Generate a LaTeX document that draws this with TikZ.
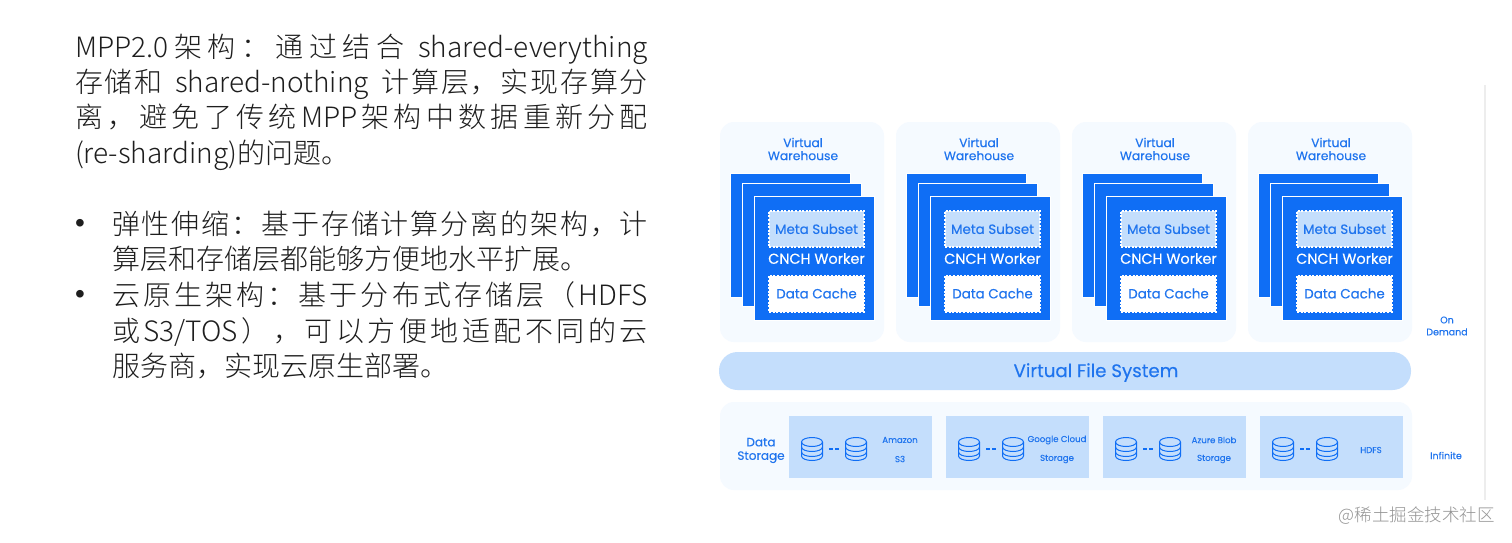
\documentclass[tikz,border=0pt]{standalone}
\usepackage{fontspec}
\setmainfont{Noto Sans CJK SC}
\newfontfamily\uifont[FakeBold=0.25]{Poppins}
\newfontfamily\cjkf{Noto Sans CJK SC Light}
\newfontfamily\bulletf{Liberation Sans}
\definecolor{brandblue}{HTML}{0F6EF5}
\definecolor{textblue}{HTML}{1F74EE}
\definecolor{palepanel}{HTML}{F5FAFF}
\definecolor{paleblue}{HTML}{C4DEFC}
\definecolor{inkgray}{HTML}{1E1E1E}
\makeatletter
\newcommand{\jline}[2]{\hbox to #1pt{\def\jsep{}\@tfor\jch:=#2\do{\jsep\jch\def\jsep{\hfil}}}}
\makeatother
\tikzset{
  x=1pt,y=-1pt,
  bodyline/.style={anchor=base west,inner sep=0pt,outer sep=0pt,text=inkgray,font=\cjkf\fontsize{28}{30}\selectfont},
  bulletmark/.style={inner sep=0pt,outer sep=0pt,text=inkgray,font=\bulletf\fontsize{28}{30}\selectfont},
  cardbox/.style={fill=brandblue,draw=white,line width=0.5pt},
  metabox/.style={fill=paleblue,draw=white,line width=2pt,dash pattern=on 2pt off 1.6pt,inner sep=0pt,text=textblue,font=\uifont\fontsize{13.4}{14}\selectfont},
  cachebox/.style={fill=white,draw=white,line width=2pt,dash pattern=on 2pt off 1.6pt,inner sep=0pt,text=textblue,font=\uifont\fontsize{13.4}{14}\selectfont},
  worklabel/.style={text=white,inner sep=0pt,font=\uifont\fontsize{14.4}{15}\selectfont},
  whlabel/.style={text=textblue,inner sep=0pt,align=center,font=\uifont\fontsize{12.3}{13}\selectfont},
  storebox/.style={fill=paleblue,draw=none,inner sep=0pt},
  storelabel/.style={text=textblue,inner sep=0pt,font=\uifont\fontsize{8.6}{10}\selectfont},
  sidelabel/.style={text=textblue,inner sep=0pt,align=center,font=\uifont\fontsize{9.5}{12}\selectfont},
  dbstroke/.style={draw=brandblue,line width=1pt},
  dblink/.style={draw=brandblue,line width=2pt,dash pattern=on 4pt off 2pt,shorten >=6.5pt,shorten <=6.5pt},
}
\newcommand{\dbicon}[3]{%
  \coordinate (#1) at (#2,#3);
  \draw[dbstroke] (#2,#3-7) ellipse [x radius=10.5pt,y radius=4.5pt];
  \draw[dbstroke] (#2-10.5,#3-7) -- (#2-10.5,#3+7) arc [start angle=180,end angle=360,x radius=10.5pt,y radius=4.5pt] -- (#2+10.5,#3-7);
  \draw[dbstroke] (#2-10.5,#3-2) arc [start angle=180,end angle=360,x radius=10.5pt,y radius=4.5pt];
  \draw[dbstroke] (#2-10.5,#3+3) arc [start angle=180,end angle=360,x radius=10.5pt,y radius=4.5pt];
}
\begin{document}
\begin{tikzpicture}
\useasboundingbox (0,0) rectangle (1512,542);
\fill[white] (0,0) rectangle (1512,542);
% left text
\node[bodyline] (l1) at (75,57) {\jline{573}{{MPP2.0}架构：通过结合{\hskip 2pt}{shared-everything}}};
\node[bodyline] (l2) at (75,92) {\jline{573}{存储和{\hskip 9pt}{shared-nothing}{\hskip 9pt}计算层，实现存算分}};
\node[bodyline] (l3) at (75,127.5) {\jline{573}{离，避免了传统{MPP}架构中数据重新分配}};
\node[bodyline] (l4) at (75,163) {(re-sharding)的问题。};
\node[bulletmark] (b1) at (80,226) {•};
\node[bodyline] (l5) at (112,234) {\jline{536}{弹性伸缩：基于存储计算分离的架构，计}};
\node[bodyline] (l6) at (112,269) {算层和存储层都能够方便地水平扩展。};
\node[bulletmark] (b2) at (80,297) {•};
\node[bodyline] (l7) at (112,305) {\jline{536}{云原生架构：基于分布式存储层（{HDFS}}};
\node[bodyline] (l8) at (112,341) {\jline{536}{或{S3/TOS}），可以方便地适配不同的云}};
\node[bodyline] (l9) at (112,376.5) {服务商，实现云原生部署。};
% right rule
\draw[draw=black!7,line width=1.2pt] (1485,85) -- (1485,500);
% warehouses
\foreach \i/\dx in {1/0,2/176,3/352,4/528}{
  \begin{scope}[xshift=\dx pt]
    \fill[palepanel,rounded corners=14pt] (720,122) rectangle (884,342);
    \node[whlabel] (wh\i) at (803,149) {Virtual\\Warehouse};
    \filldraw[cardbox] (730.5,173) rectangle (850.5,297);
    \filldraw[cardbox] (742,183) rectangle (861.5,306.5);
    \filldraw[cardbox] (754.5,196) rectangle (874.5,320.5);
    \node[metabox,minimum width=95pt,minimum height=36pt] (meta\i) at (816.5,229) {Meta Subset};
    \node[worklabel] (work\i) at (816.5,258.5) {CNCH Worker};
    \node[cachebox,minimum width=95pt,minimum height=36pt] (cache\i) at (816.5,293.5) {Data Cache};
  \end{scope}
}
% virtual file system
\node[fill=paleblue,rounded corners=18.5pt,minimum width=692pt,minimum height=38pt,inner sep=0pt] (vfs) at (1065,371) {};
\node[text=textblue,inner sep=0pt,font=\uifont\fontsize{18.2}{20}\selectfont] (vfslabel) at (1096,372.5) {Virtual File System};
% data storage
\fill[palepanel,rounded corners=14pt] (720,402) rectangle (1412,490);
\node[text=textblue,inner sep=0pt,align=center,font=\uifont\fontsize{12}{13.5}\selectfont] (dslabel) at (761,450.5) {Data\\Storage};
\node[storebox,minimum width=142.5pt,minimum height=62pt] (s1) at (860.5,447) {};
\node[storebox,minimum width=142.5pt,minimum height=62pt] (s2) at (1017.5,447) {};
\node[storebox,minimum width=142.5pt,minimum height=62pt] (s3) at (1174.5,447) {};
\node[storebox,minimum width=142.5pt,minimum height=62pt] (s4) at (1331.5,447) {};
\dbicon{a1}{812}{449}\dbicon{c1}{856}{449}
\dbicon{a2}{969}{449}\dbicon{c2}{1013}{449}
\dbicon{a3}{1126}{449}\dbicon{c3}{1170}{449}
\dbicon{a4}{1283}{449}\dbicon{c4}{1327}{449}
\foreach \k in {1,2,3,4}{
  \coordinate (ae\k) at ([xshift=10.5pt]a\k);
  \coordinate (cw\k) at ([xshift=-10.5pt]c\k);
  \draw[dblink] (ae\k) -- (cw\k);
}
\node[storelabel] (t1a) at (900,440) {Amazon};
\node[storelabel] (t1b) at (900,459) {S3};
\node[storelabel] (t2a) at (1057,440) {Google Cloud};
\node[storelabel] (t2b) at (1057,459) {Storage};
\node[storelabel] (t3a) at (1214,440) {Azure Blob};
\node[storelabel] (t3b) at (1214,459) {Storage};
\node[storelabel] (t4a) at (1371,450) {HDFS};
\node[sidelabel] (demand) at (1447,326) {On\\Demand};
\node[sidelabel] (inf) at (1446,455.5) {Infinite};
\node[anchor=east,inner sep=0pt,text=black!42,font=\cjkf\fontsize{17.5}{20}\selectfont] (mark) at (1495,516) {@稀土掘金技术社区};
\end{tikzpicture}
\end{document}
